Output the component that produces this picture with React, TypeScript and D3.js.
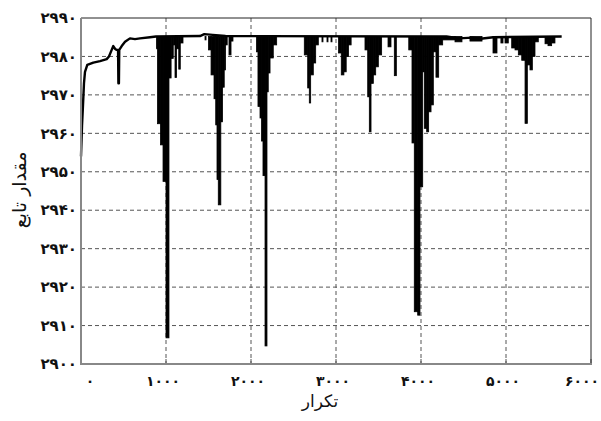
import React from "react";
import * as d3 from "d3";

// ---- data ----
const xTicks = [0, 1000, 2000, 3000, 4000, 5000, 6000];
const xTickLabels = ["۰", "۱۰۰۰", "۲۰۰۰", "۳۰۰۰", "۴۰۰۰", "۵۰۰۰", "۶۰۰۰"];
const yTicks = [2900, 2910, 2920, 2930, 2940, 2950, 2960, 2970, 2980, 2990];
const yTickLabels = ["۲۹۰۰", "۲۹۱۰", "۲۹۲۰", "۲۹۳۰", "۲۹۴۰", "۲۹۵۰", "۲۹۶۰", "۲۹۷۰", "۲۹۸۰", "۲۹۹۰"];
const xTitle = "تکرار";
const yTitle = "مقدار تابع";

// upper trace of the objective value
const trendIter = [0, 12, 24, 35, 47, 74, 145, 224, 302, 329, 361, 380, 400, 420, 436, 440, 446, 450, 479, 518, 576, 635, 694, 812, 882, 1400, 1450, 1550, 1700, 4300, 4450, 4600, 4700, 4850, 5655];
const trendValue = [2954, 2962, 2967.6, 2973, 2976, 2977.8, 2978.4, 2978.8, 2979.3, 2980, 2981.7, 2982.7, 2982, 2981.7, 2981.7, 2973, 2973, 2981.7, 2982.7, 2983.8, 2984.7, 2984.5, 2984.7, 2985, 2985.2, 2985.3, 2985.8, 2985.6, 2985.3, 2985.2, 2984.7, 2984.9, 2984.6, 2985, 2985.2];

// dense downward oscillations: iteration span and lowest value reached
const dipTop = 2985.2;
const dipStart = [888, 900, 935, 965, 1000, 1035, 1060, 1085, 1106, 1124, 1150, 1168,
  1459, 1500, 1530, 1565, 1585, 1600, 1615, 1645, 1665, 1685, 1700, 1741, 1765,
  2065, 2082, 2106, 2124, 2141, 2165, 2188, 2203, 2224, 2262,
  2627, 2667, 2686, 2702, 2733, 2761, 2835, 2894, 2941,
  3030, 3062, 3093, 3120, 3147,
  3341, 3373, 3392, 3412, 3439, 3467, 3498, 3612, 3686,
  3856, 3894, 3921, 3961, 3988, 4020, 4039, 4067, 4090, 4118, 4145, 4176, 4208, 4255,
  4400, 4576, 4847, 4940,
  4988, 5067, 5106, 5145, 5185, 5224, 5251, 5282, 5310, 5341,
  5459, 5494, 5537];
const dipEnd = [900, 935, 965, 1000, 1035, 1060, 1085, 1106, 1124, 1150, 1168, 1200,
  1471, 1530, 1565, 1585, 1600, 1615, 1645, 1665, 1685, 1700, 1720, 1765, 1788,
  2082, 2106, 2124, 2141, 2165, 2188, 2203, 2224, 2262, 2302,
  2667, 2686, 2702, 2733, 2761, 2792, 2847, 2906, 2953,
  3062, 3093, 3120, 3147, 3178,
  3373, 3392, 3412, 3439, 3467, 3498, 3537, 3647, 3710,
  3894, 3921, 3961, 3988, 4020, 4039, 4067, 4090, 4118, 4145, 4176, 4208, 4255, 4400,
  4482, 4718, 4894, 4965,
  5027, 5106, 5145, 5185, 5224, 5251, 5282, 5310, 5341, 5380,
  5494, 5537, 5576];
const dipLow = [2982, 2962.5, 2957, 2947.5, 2906.8, 2974.4, 2979.5, 2983, 2974.5, 2982, 2976.7, 2983.5,
  2984.3, 2981.7, 2975.2, 2969, 2962.2, 2948, 2941.4, 2963, 2972, 2976.5, 2983, 2980.4, 2984,
  2981.2, 2967, 2964, 2958, 2949, 2904.7, 2970.8, 2975.7, 2979.6, 2983,
  2980.4, 2971.8, 2967.9, 2975.2, 2978.3, 2983, 2983.8, 2983.8, 2983.8,
  2980.9, 2975.2, 2976, 2980, 2983,
  2981.7, 2969.5, 2960.4, 2973, 2975.2, 2977.3, 2980.4, 2982.5, 2975,
  2981.7, 2957.5, 2913.6, 2912.7, 2946.1, 2976, 2961.3, 2960.4, 2965.6, 2967.4, 2981.2, 2974.6, 2983, 2984.3,
  2983.8, 2984, 2980.9, 2983.5,
  2983.5, 2982.2, 2981.7, 2980.4, 2979, 2962.6, 2977.8, 2976.5, 2980, 2983.8,
  2983.3, 2982.8, 2983.5];

const W = 601;
const H = 421;
const M = { left: 81, right: 591, top: 18, bottom: 364 };

export default function App() {
  const x = d3.scaleLinear().domain([0, 6000]).range([M.left, M.right]);
  const y = d3.scaleLinear().domain([2900, 2990]).range([M.bottom, M.top]);

  const trend = trendIter.map((t, i) => [t, trendValue[i]] as [number, number]);
  const line = d3.line<[number, number]>().x((d) => x(d[0])).y((d) => y(d[1]));

  const font = "'DejaVu Sans', sans-serif";

  return (
    <svg width={W} height={H} style={{ position: "absolute", left: 0, top: 0, background: "#fff" }}>
      {/* grid */}
      {yTicks.slice(1, -1).map((v) => (
        <line key={"gy" + v} x1={M.left} x2={M.right} y1={y(v)} y2={y(v)} stroke="#555" strokeWidth={1} strokeDasharray="4,3" />
      ))}
      {xTicks.slice(1, -1).map((v) => (
        <line key={"gx" + v} x1={x(v)} x2={x(v)} y1={M.top} y2={M.bottom} stroke="#555" strokeWidth={1} strokeDasharray="4,3" />
      ))}
      {/* bottom ticks */}
      {xTicks.map((v) => (
        <line key={"tx" + v} x1={x(v)} x2={x(v)} y1={M.bottom} y2={M.bottom - 5} stroke="#555" strokeWidth={1} />
      ))}
      {/* dips */}
      <g fill="#000" stroke="#000" strokeWidth={0.8}>
        {dipStart.map((s, i) => (
          <rect key={"d" + i} x={x(s)} width={Math.max(1, x(dipEnd[i]) - x(s))} y={y(dipTop)} height={y(dipLow[i]) - y(dipTop)} />
        ))}
      </g>
      {/* trace */}
      <path d={line(trend) || ""} fill="none" stroke="#000" strokeWidth={2.4} strokeLinejoin="round" />
      {/* frame */}
      <line x1={M.left} x2={M.right} y1={M.top} y2={M.top} stroke="#222" strokeWidth={1} />
      <line x1={M.right} x2={M.right} y1={M.top} y2={M.bottom} stroke="#222" strokeWidth={1} />
      <line x1={M.left} x2={M.left} y1={M.top} y2={M.bottom + 1} stroke="#888" strokeWidth={2} />
      <line x1={M.left - 1} x2={M.right + 1} y1={M.bottom} y2={M.bottom} stroke="#888" strokeWidth={2} />
      {/* y tick labels */}
      {yTicks.map((v, i) => (
        <text key={"ly" + v} x={77} y={y(v)} dy="0.35em" textAnchor="end" fontFamily={font} fontSize={15} fontWeight="bold" fill="#111">
          {yTickLabels[i]}
        </text>
      ))}
      {/* x tick labels */}
      {xTicks.map((v, i) => (
        <text key={"lx" + v} x={x(v) + (i === 0 ? 9 : i === xTicks.length - 1 ? -9 : -3)} y={381} dy="0.35em" textAnchor="middle" fontFamily={font} fontSize={14} fontWeight="bold" fill="#111">
          {xTickLabels[i]}
        </text>
      ))}
      {/* axis titles */}
      <text x={320} y={407} textAnchor="middle" fontFamily={font} fontSize={17} fill="#111">{xTitle}</text>
      <text transform={`translate(26,190) rotate(-90)`} textAnchor="middle" fontFamily={font} fontSize={19} fill="#111">{yTitle}</text>
    </svg>
  );
}
